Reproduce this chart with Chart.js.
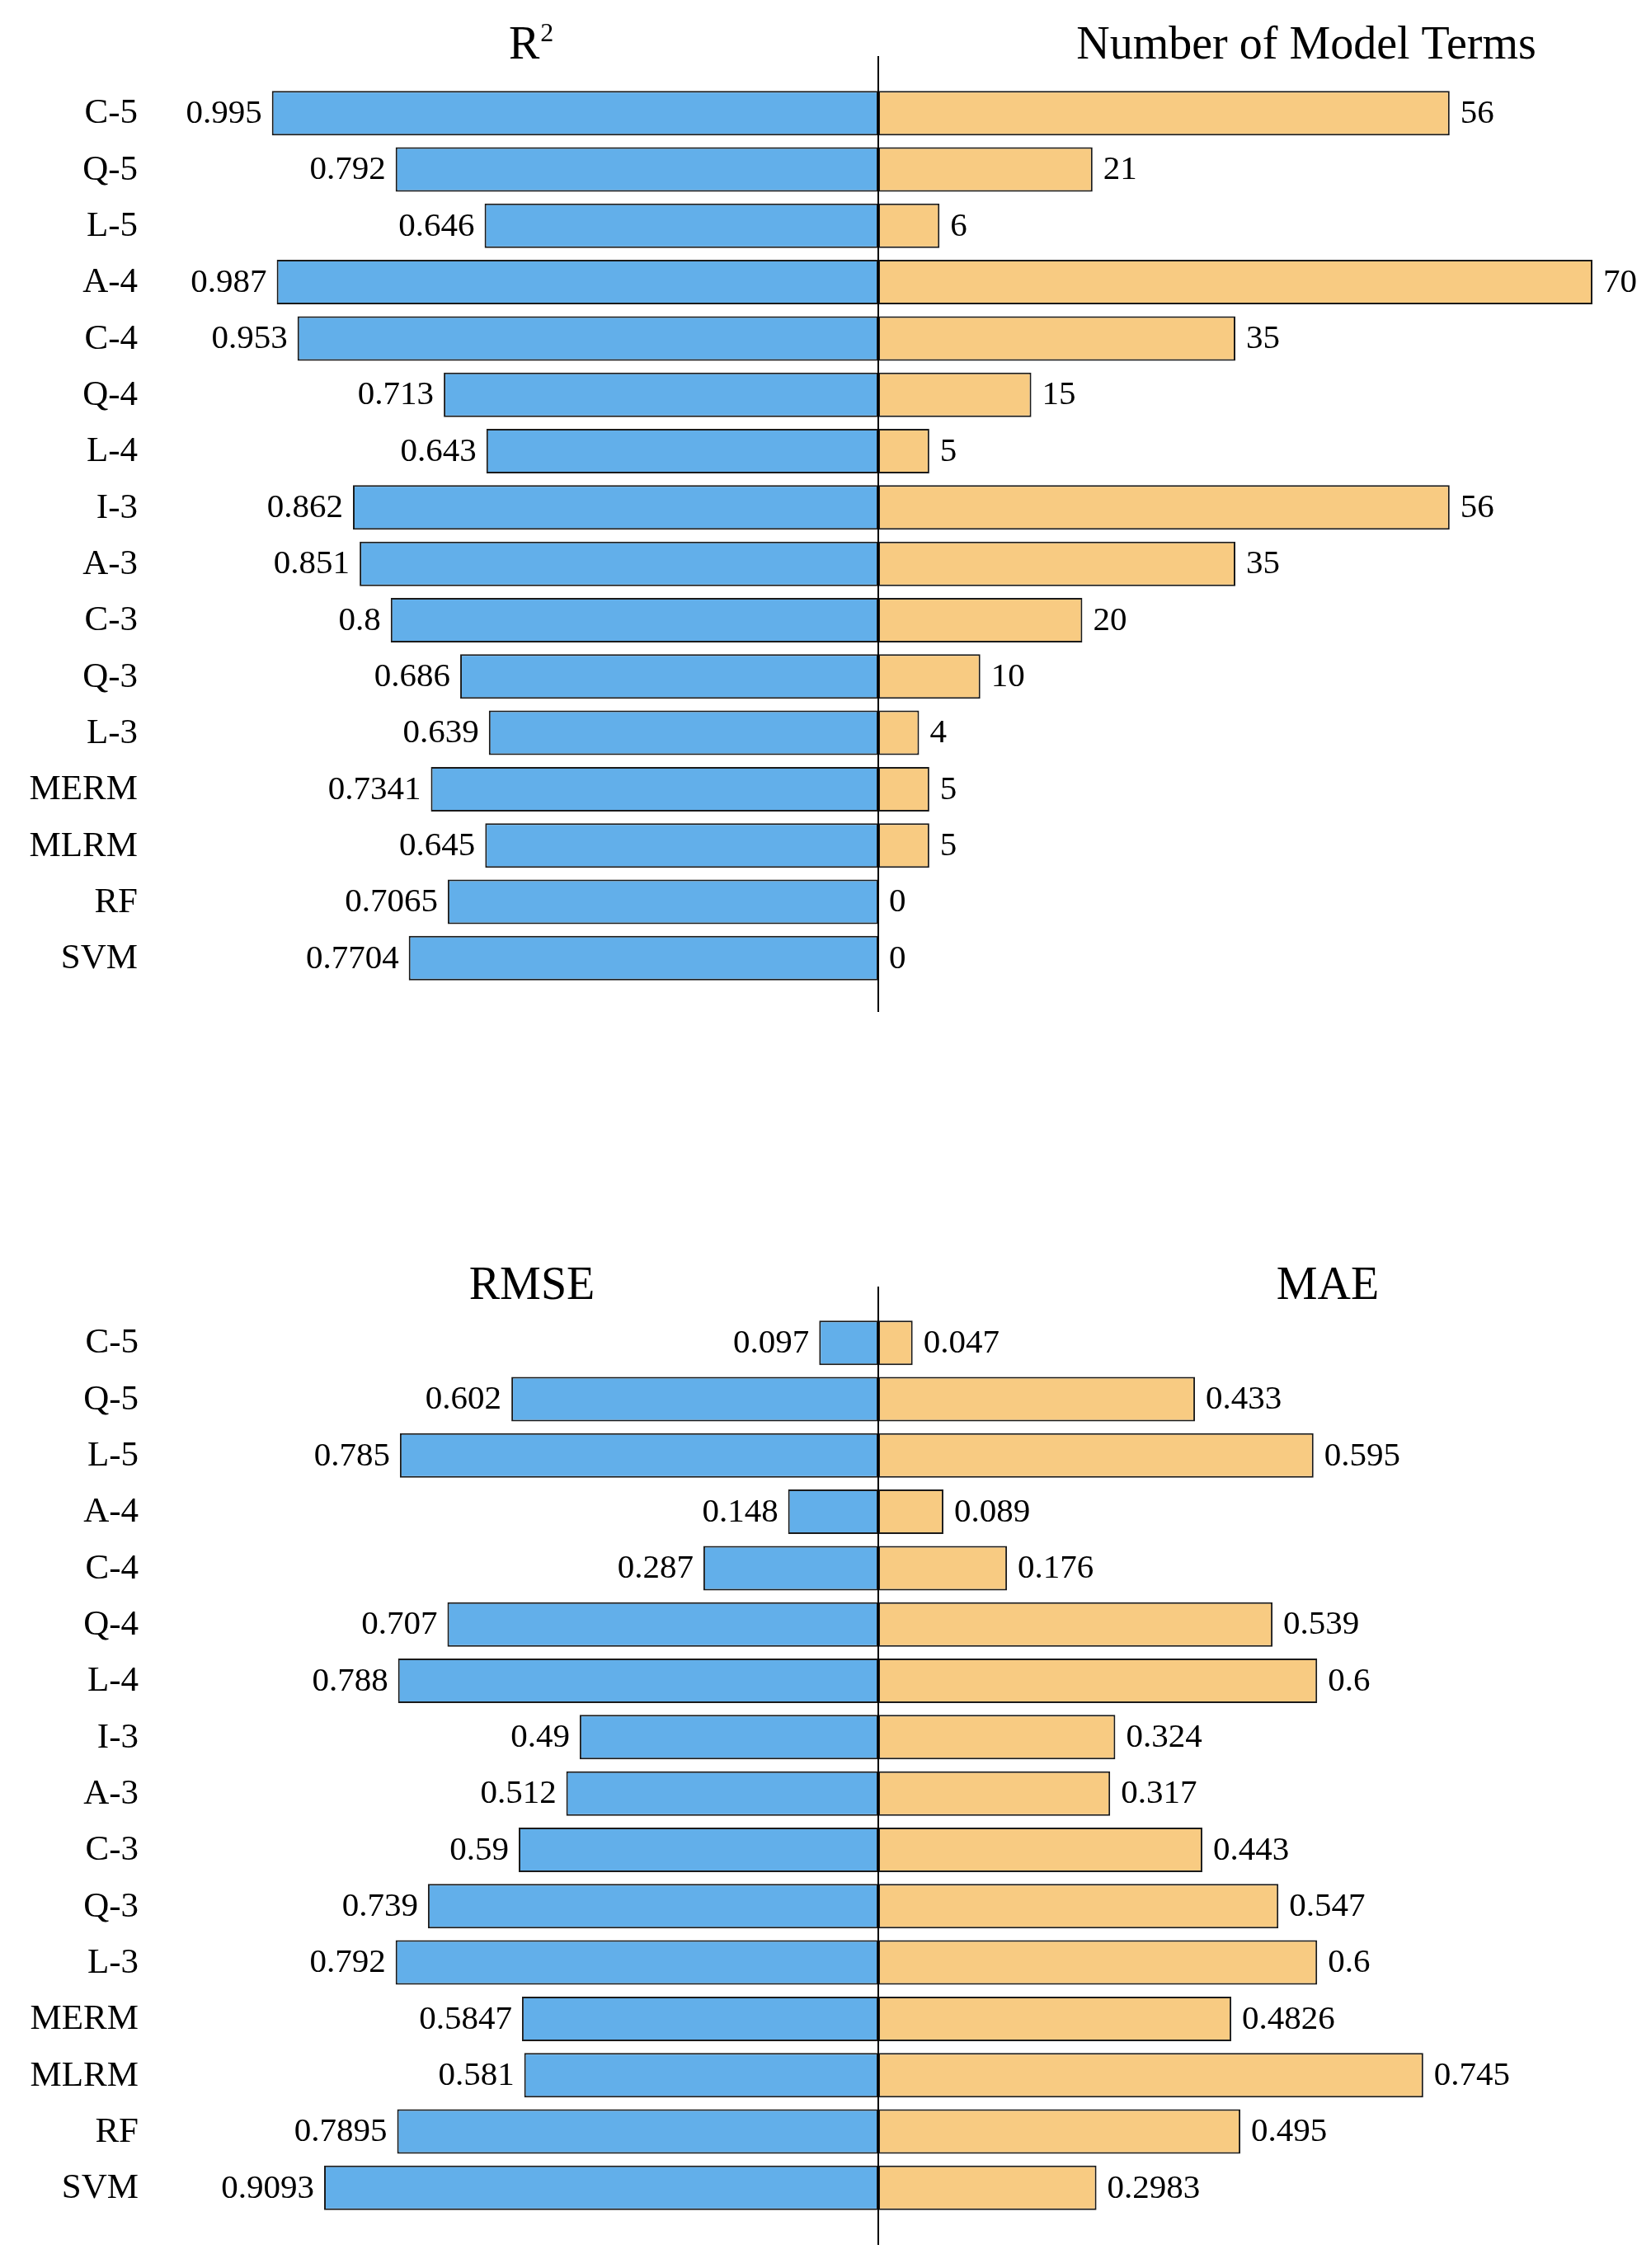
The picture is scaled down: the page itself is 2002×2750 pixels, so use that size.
<!DOCTYPE html>
<html>
<head>
<meta charset="utf-8">
<script src="https://cdn.jsdelivr.net/npm/chart.js@4.4.0/dist/chart.umd.min.js"></script>
<style>
  html, body { margin: 0; padding: 0; background: #fff; }
  #page { position: relative; width: 2002px; height: 2750px; }
  #page canvas { position: absolute; }
</style>
</head>
<body>
<div id="page">
  <canvas id="r2Chart" width="1065" height="1230" style="left:0;top:0"></canvas>
  <canvas id="termsChart" width="947" height="1230" style="left:1055px;top:0"></canvas>
  <canvas id="rmseChart" width="1065" height="1260" style="left:0;top:1490px"></canvas>
  <canvas id="maeChart" width="947" height="1260" style="left:1055px;top:1490px"></canvas>
</div>
<script>
// ===============================
// DONNEES
// ===============================

const models = ['C-5', 'Q-5', 'L-5', 'A-4', 'C-4', 'Q-4', 'L-4', 'I-3', 'A-3', 'C-3', 'Q-3', 'L-3', 'MERM', 'MLRM', 'RF', 'SVM'];
const r2Values = [0.995, 0.792, 0.646, 0.987, 0.953, 0.713, 0.643, 0.862, 0.851, 0.8, 0.686, 0.639, 0.7341, 0.645, 0.7065, 0.7704];
const termValues = [56, 21, 6, 70, 35, 15, 5, 56, 35, 20, 10, 4, 5, 5, 0, 0];
const rmseValues = [0.097, 0.602, 0.785, 0.148, 0.287, 0.707, 0.788, 0.49, 0.512, 0.59, 0.739, 0.792, 0.5847, 0.581, 0.7895, 0.9093];
const maeValues = [0.047, 0.433, 0.595, 0.089, 0.176, 0.539, 0.6, 0.324, 0.317, 0.443, 0.547, 0.6, 0.4826, 0.745, 0.495, 0.2983];

const FONT = "'Liberation Serif', 'Times New Roman', serif";
const BLUE = "#62afea";
const ORANGE = "#f8cb82";
const EDGE = "#1a1a1a";

Chart.defaults.animation = false;
Chart.defaults.devicePixelRatio = 1;

// ===============================
// PLUGIN : libelles, valeurs, titres, ligne centrale
// ===============================

const decorPlugin = {
    id: 'decor',
    afterDatasetsDraw(chart, args, opts) {
        const c = chart.ctx;
        const meta = chart.getDatasetMeta(0);
        const data = chart.data.datasets[0].data;
        const yScale = chart.scales.y;
        c.save();
        c.fillStyle = "#000";
        c.textBaseline = "middle";

        // noms des modeles (cote gauche)
        if (opts.side === 'left') {
            c.font = "43px " + FONT;
            c.textAlign = "right";
            chart.data.labels.forEach((lab, i) => {
                c.fillText(lab, opts.labelX, yScale.getPixelForTick(i) + 1);
            });
        }

        // valeurs au bout des barres
        c.font = "41px " + FONT;
        meta.data.forEach((bar, i) => {
            if (opts.side === 'left') {
                c.textAlign = "right";
                c.fillText(String(data[i]), bar.x - 12, bar.y + 1);
            } else {
                c.textAlign = "left";
                c.fillText(String(data[i]), bar.x + 13, bar.y + 1);
            }
        });

        // titre du panneau
        c.textBaseline = "alphabetic";
        c.font = "56px " + FONT;
        if (opts.sup) {
            c.textAlign = "left";
            c.fillText(opts.title, opts.titleX, opts.titleY);
            const w = c.measureText(opts.title).width;
            c.font = "32px " + FONT;
            c.fillText(opts.sup, opts.titleX + w + 1, opts.titleY - 21);
        } else {
            c.textAlign = "center";
            c.fillText(opts.title, opts.titleX, opts.titleY);
        }

        // axe central
        if (opts.side === 'right') {
            const area = chart.chartArea;
            c.strokeStyle = "#000";
            c.lineWidth = 2;
            c.beginPath();
            c.moveTo(area.left, area.top - opts.lineUp);
            c.lineTo(area.left, area.bottom + opts.lineDown);
            c.stroke();
        }
        c.restore();
    }
};

function makeHalf(id, values, color, side, max, pad, decor) {
    return new Chart(document.getElementById(id), {
        type: 'bar',
        data: {
            labels: models,
            datasets: [{
                data: values,
                backgroundColor: color,
                borderColor: EDGE,
                borderWidth: 2,
                borderSkipped: false,
                categoryPercentage: 1,
                barPercentage: 0.79
            }]
        },
        options: {
            indexAxis: 'y',
            responsive: false,
            layout: { padding: pad },
            plugins: {
                legend: { display: false },
                tooltip: { enabled: false },
                decor: Object.assign({ side: side }, decor)
            },
            scales: {
                x: {
                    display: false,
                    min: 0,
                    max: max,
                    reverse: side === 'left'
                },
                y: { display: false }
            }
        },
        plugins: [decorPlugin]
    });
}

// ===============================
// GRAPHIQUES
// ===============================

makeHalf('r2Chart', r2Values, BLUE, 'left', 1.0,
    { top: 103, bottom: 34, left: 326, right: 0 },
    { title: 'R', sup: '2', titleX: 617, titleY: 71, labelX: 167 });

makeHalf('termsChart', termValues, ORANGE, 'right', 70,
    { top: 103, bottom: 34, left: 10, right: 947 - 10 - 866 },
    { title: 'Number of Model Terms', titleX: 1584 - 1055, titleY: 71, lineUp: 35, lineDown: 31 });

makeHalf('rmseChart', rmseValues, BLUE, 'left', 1.0,
    { top: 104, bottom: 63, left: 326, right: 0 },
    { title: 'RMSE', titleX: 645, titleY: 1575 - 1490, labelX: 168 });

makeHalf('maeChart', maeValues, ORANGE, 'right', 1.0,
    { top: 104, bottom: 63, left: 10, right: 947 - 10 - 887 },
    { title: 'MAE', titleX: 1610 - 1055, titleY: 1575 - 1490, lineUp: 34, lineDown: 35 });
</script>
</body>
</html>
